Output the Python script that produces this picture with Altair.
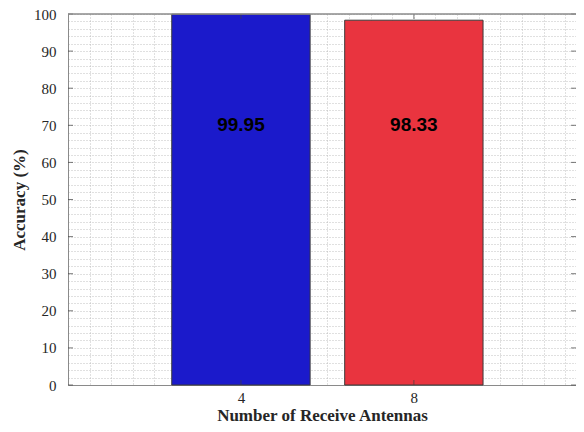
import altair as alt
import pandas as pd

antennas = [4, 8]
accuracy = [99.95, 98.33]
labels = ["99.95", "98.33"]
colors = ["#1b1acb", "#e9343f"]
label_y = [70, 70]

x_grid = [i * 0.5 for i in range(0, 24)]
y_grid = list(range(0, 101, 2))
x_ticks = [4, 8]
y_ticks = list(range(0, 101, 10))

W, H = 508, 371
bar_half = 1.6

df = pd.DataFrame({"n": antennas, "acc": accuracy, "lab": labels, "col": colors, "ly": label_y})

xs = alt.Scale(domain=[0, 11.75], nice=False, zero=False)
ys = alt.Scale(domain=[0, 100], nice=False)

serif = "Liberation Serif"
gray = "#8a8a8a"

bars = alt.Chart(df).transform_calculate(
    x0=f"datum.n - {bar_half}", x1=f"datum.n + {bar_half}"
).mark_bar(stroke="#3a3a3a", strokeWidth=1).encode(
    x=alt.X("x0:Q", scale=xs, axis=alt.Axis(
        values=x_grid, tickCount=1000,
        labelExpr="(datum.value==4 || datum.value==8) ? '' + datum.value : ''",
        labelOverlap=False, labelFlush=False,
        title="Number of Receive Antennas", grid=True, gridDash=[1, 2], gridColor="#b0b0b0",
        gridWidth=0.8, ticks=False, domainColor=gray, labelFont=serif, labelFontSize=15,
        labelColor="#262626", labelPadding=5, titleFont=serif, titleFontSize=17,
        titleFontWeight="bold", titleColor="#262626", titlePadding=2)),
    x2="x1:Q",
    y=alt.Y("acc:Q", scale=ys, axis=alt.Axis(
        values=y_grid, tickCount=1000,
        labelExpr="datum.value % 10 == 0 ? '' + datum.value : ''",
        labelOverlap=False, labelFlush=False,
        title="Accuracy (%)", grid=True, gridDash=[1, 2], gridColor="#b0b0b0",
        gridWidth=0.8, ticks=False, domainColor=gray, labelFont=serif, labelFontSize=15,
        labelColor="#262626", labelPadding=12, titleFont=serif, titleFontSize=17,
        titleFontWeight="bold", titleColor="#262626", titlePadding=5)),
    y2=alt.datum(0),
    color=alt.Color("col:N", scale=None, legend=None),
)

text = alt.Chart(df).mark_text(font="Liberation Sans", fontWeight="bold", fontSize=19,
                               color="black", baseline="middle").encode(
    x=alt.X("n:Q", scale=xs), y=alt.Y("ly:Q", scale=ys), text="lab:N")

tdf_y = pd.DataFrame({"v": y_ticks})
tdf_x = pd.DataFrame({"v": x_ticks})
tick_col = "#404040"
lt = alt.Chart(tdf_y).mark_tick(orient="horizontal", size=5, thickness=1, color=tick_col).encode(
    y=alt.Y("v:Q", scale=ys), x=alt.value(2.5))
rt = alt.Chart(tdf_y).mark_tick(orient="horizontal", size=5, thickness=1, color=tick_col).encode(
    y=alt.Y("v:Q", scale=ys), x=alt.value(W - 2.5))
bt = alt.Chart(tdf_x).mark_tick(orient="vertical", size=5, thickness=1, color=tick_col).encode(
    x=alt.X("v:Q", scale=xs), y=alt.value(H - 2.5))
tt = alt.Chart(tdf_x).mark_tick(orient="vertical", size=5, thickness=1, color=tick_col).encode(
    x=alt.X("v:Q", scale=xs), y=alt.value(2.5))
top = alt.Chart(tdf_x).mark_rule(color=gray, strokeWidth=1).encode(
    x=alt.value(0), x2=alt.value(W), y=alt.value(0))

chart = alt.layer(bars, text, lt, rt, bt, tt, top).properties(
    width=W, height=H, autosize=alt.AutoSizeParams(type="none"),
    padding={"left": 60, "top": 6, "right": 0, "bottom": 39},
).configure_view(stroke=None)

chart.save("out.html", embed_options={"renderer": "svg", "actions": False})
